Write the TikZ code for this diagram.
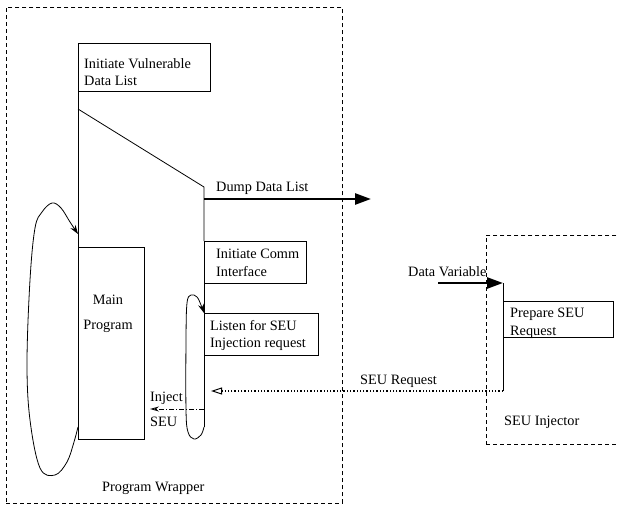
\documentclass[tikz,border=0pt]{standalone}
\usepackage{fontspec}
\setmainfont{Liberation Serif}
\usetikzlibrary{arrows.meta}
\begin{document}
\begin{tikzpicture}[x=1pt,y=-1pt,
 box/.style={draw, line width=0.8pt, rectangle, inner sep=0pt, anchor=north west},
 wrap/.style={draw, line width=0.8pt, dash pattern=on 4pt off 3pt, inner sep=0pt, anchor=north west},
 txt/.style={inner sep=0pt, anchor=west, align=left, font=\fontsize{14.3}{17.5}\selectfont},
 flow/.style={line width=0.8pt},
 thickarrow/.style={line width=2.6pt, -{Triangle[length=16pt,width=11pt]}},
 reqline/.style={line width=1.3pt, dash pattern=on 1.3pt off 2pt, -{Triangle[open,length=11pt,width=7pt,line width=1pt]}},
 injline/.style={line width=0.8pt, dash pattern=on 5pt off 2pt on 1pt off 2pt, -{Stealth[open,length=9pt,width=5pt]}},
 loop/.style={line width=0.8pt, -{Stealth[length=9pt,width=6pt]}},
]
\useasboundingbox (0,0) rectangle (619,506);
\clip (0,0) rectangle (619,506);

% boxes
\node[wrap, minimum width=336pt, minimum height=496pt] (wrapper) at (6,7) {};
\node[wrap, minimum width=160pt, minimum height=209pt] (injector) at (486,235) {};
\node[box, minimum width=132pt, minimum height=48pt] (ivdl) at (78,43) {};
\node[box, minimum width=66pt, minimum height=192pt] (main) at (78,247) {};
\node[box, minimum width=102pt, minimum height=42pt] (comm) at (204,241) {};
\node[box, minimum width=114pt, minimum height=42pt] (listen) at (204,313) {};
\node[box, minimum width=110pt, minimum height=36pt] (prep) at (503,301) {};

% texts
\node[txt] (tivdl) at (84,72) {Initiate Vulnerable\\Data List};
\node[txt] (tdump) at (216,188) {Dump Data List};
\node[txt] (tcomm) at (216,263) {Initiate Comm\\Interface};
\node[txt, align=center, anchor=center] (tmain) at (108,314) {Main\\[7pt]Program};
\node[txt] (tlisten) at (210,335.5) {Listen for SEU\\Injection request};
\node[txt] (tinject) at (150,398) {Inject};
\node[txt] (tseu) at (150,422) {SEU};
\node[txt] (twrap) at (102,488) {Program Wrapper};
\node[txt] (tdv) at (408,272) {Data Variable};
\node[txt] (tprep) at (510,323.5) {Prepare SEU\\Request};
\node[txt] (tseureq) at (360,381) {SEU Request};
\node[txt] (tinj) at (504,422) {SEU Injector};

% coordinates
\coordinate (diagA) at (78,109);
\coordinate (diagB) at (204,187);
\coordinate (lbot) at (204,427);
\coordinate (dumpstart) at (204,199);
\coordinate (dumpend) at (371,199);
\coordinate (dvstart) at (438,283);
\coordinate (dvend) at (503,283);
\coordinate (reqcorner) at (503,391);
\coordinate (reqend) at (211,391);
\coordinate (injstart) at (204,409);
\coordinate (injend) at (150,409);

% flow lines
\draw[flow] (ivdl.south west) -- (main.north west);
\draw[flow] (diagA) -- (diagB) -- (comm.north west);
\draw[flow] (comm.south west) -- (listen.north west);
\draw[flow] (listen.south west) -- (lbot);
\draw[thickarrow] (dumpstart) -- (dumpend);
\draw[thickarrow] (dvstart) -- (dvend);
\draw[flow] (dvend) -- (reqcorner);
\draw[reqline] (reqcorner) -- (reqend);
\draw[injline] (injstart) -- (injend);

% loops
\draw[loop] plot[smooth, tension=0.6] coordinates {(78,427) (74,442) (67,462) (55,475) (40,468) (30,420) (27,363) (30,280) (35,228) (42,212) (52,203) (61,208) (70,222) (78,234)};
\draw[loop] plot[smooth, tension=0.6] coordinates {(204,427) (201,435) (194,439) (188,432) (186,410) (186,340) (187,303) (191,295) (197,297) (201,305) (204,313)};
\end{tikzpicture}
\end{document}
